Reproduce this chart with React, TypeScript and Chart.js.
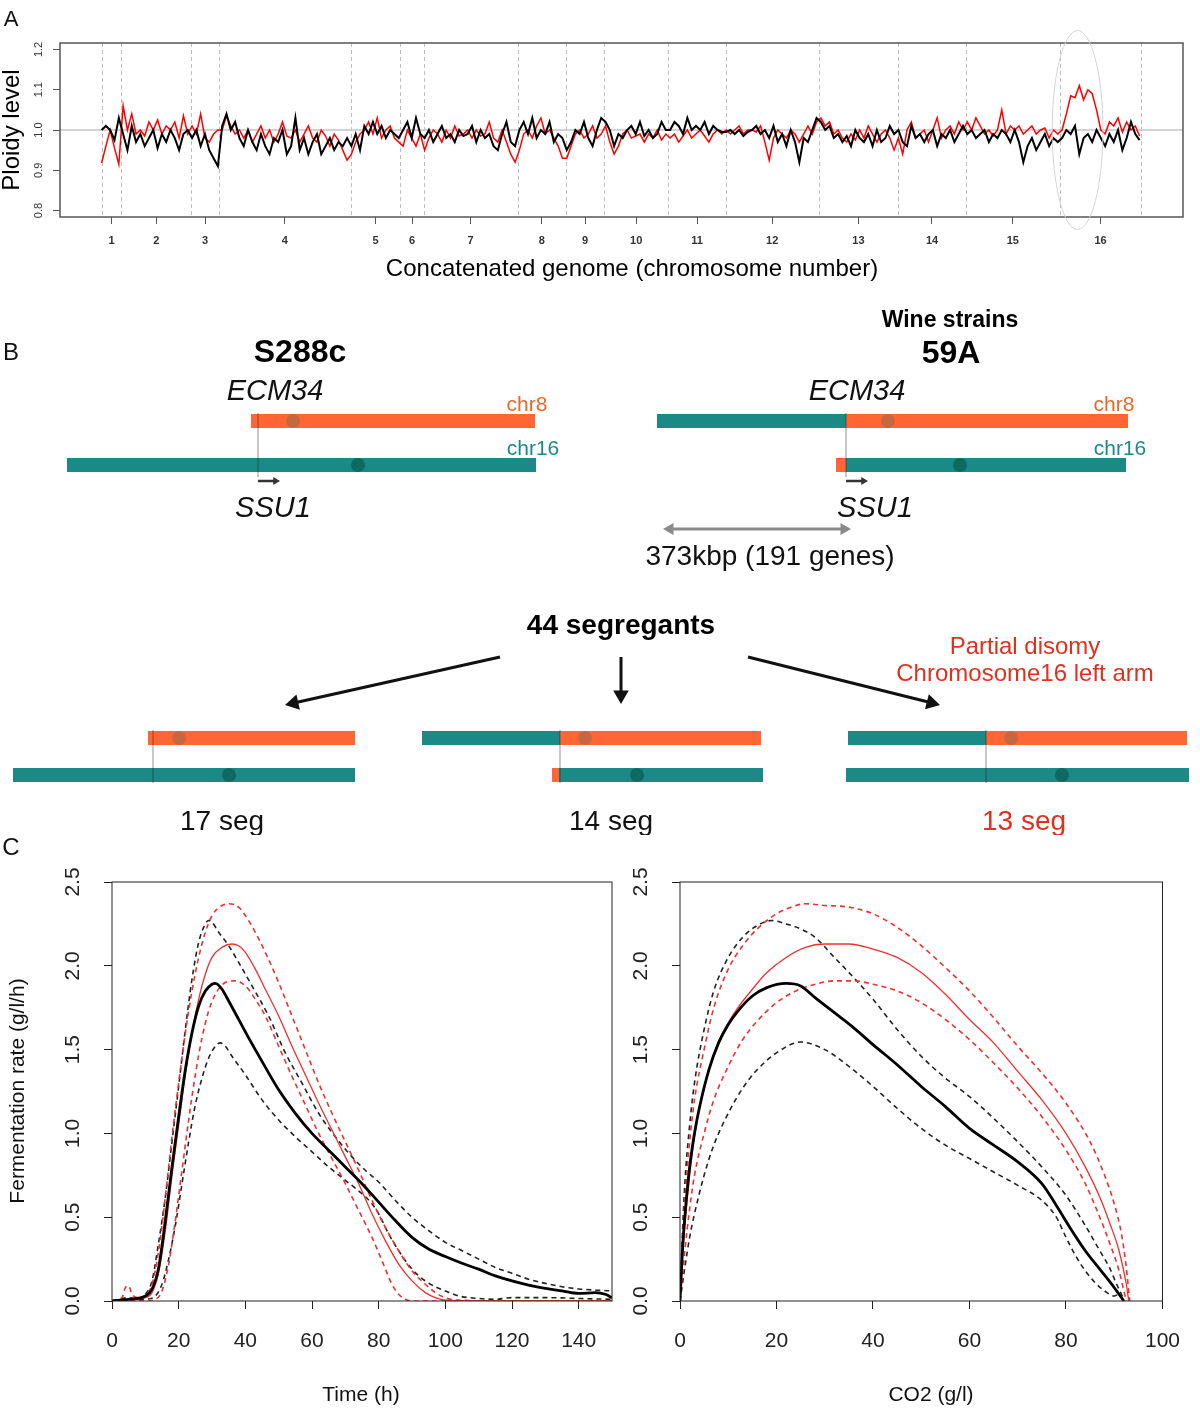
import React, { useEffect, useRef } from "react";
import { Chart, registerables } from "chart.js";

Chart.register(...registerables);

const FAMILY = '"Liberation Sans", Arial, Helvetica, sans-serif';
Chart.defaults.font.family = FAMILY;

// ================= Panel A : ploidy along the concatenated genome =================
const chromosomeLabels = ["1", "2", "3", "4", "5", "6", "7", "8", "9", "10", "11", "12", "13", "14", "15", "16"];
const chromosomeSizesKb = [230, 813, 317, 1532, 577, 270, 1091, 563, 440, 746, 667, 1078, 924, 784, 1091, 948];
const ploidyTicks = [0.8, 0.9, 1.0, 1.1, 1.2];
const ploidyWindowKb = 50;

const ploidyRed = [
  // chr1
  0.918, 0.96, 1.0, 0.955, 0.915,
  // chr2
  1.06, 1.0, 1.04, 0.99, 1.0, 0.985, 1.02, 1.0, 1.025, 0.99, 1.01, 1.0, 1.02, 0.98, 1.035, 0.99,
  // chr3
  1.01, 0.99, 1.04, 0.98, 0.97, 0.99, 1.0,
  // chr4
  1.0, 1.035, 1.01, 0.99, 1.0, 0.98, 1.0, 0.97, 0.99, 1.01, 0.98, 1.0, 0.97, 0.99, 1.02, 0.985, 0.98, 1.0, 0.97, 0.99,
  1.01, 0.98, 0.97, 1.0, 0.985, 0.96, 0.99, 0.975, 0.95, 0.925,
  // chr5
  0.94, 0.97, 0.99, 1.0, 1.02, 0.99, 1.03, 0.98, 1.0, 1.01, 0.98, 0.97,
  // chr6
  0.96, 1.0, 0.98, 0.96, 0.99,
  // chr7
  0.95, 0.98, 1.0, 0.99, 0.97, 1.0, 0.98, 1.01, 0.985, 0.99, 1.0, 0.98, 1.0, 0.985, 0.99, 1.02, 0.98, 0.97, 1.0, 0.97, 0.94, 0.92,
  // chr8
  0.95, 0.99, 1.0, 0.98, 1.01, 1.03, 0.99, 1.0, 0.98, 0.96, 0.93,
  // chr9
  0.93, 0.96, 0.99, 1.0, 0.98, 0.99, 1.01, 0.98, 0.99,
  // chr10
  1.01, 0.97, 0.94, 0.96, 0.99, 1.0, 0.98, 0.985, 0.99, 0.97, 0.99, 0.98, 1.0, 0.975, 0.99,
  // chr11
  0.98, 0.99, 0.97, 0.985, 1.0, 0.98, 0.99, 1.0, 0.985, 0.97, 0.99, 1.0, 0.99,
  // chr12
  1.0, 0.99, 1.0, 1.01, 0.99, 1.0, 1.0, 0.995, 1.01, 0.97, 0.925, 0.98, 1.0, 0.99, 0.98, 1.0, 0.99, 0.97, 0.99, 1.01, 0.99, 1.02,
  // chr13
  1.03, 1.01, 1.02, 0.99, 1.0, 0.98, 0.97, 0.99, 0.975, 1.0, 0.98, 1.01, 0.99, 0.97, 0.99, 1.0, 0.98, 0.95,
  // chr14
  0.98, 0.94, 1.0, 1.02, 0.98, 0.99, 1.0, 0.97, 1.0, 1.03, 0.98, 1.0, 1.01, 0.99, 1.02, 1.0,
  // chr15
  1.02, 1.0, 1.03, 1.01, 0.99, 1.0, 0.985, 1.0, 1.05, 0.99, 1.01, 1.0, 1.01, 0.99, 1.0, 1.01, 0.99, 1.0, 1.005, 0.98, 1.0, 0.99,
  // chr16
  1.0, 1.04, 1.085, 1.08, 1.11, 1.075, 1.1, 1.09, 1.05, 1.0, 0.99, 1.02, 1.01, 1.03, 0.995, 1.02, 1.0, 1.01, 0.985,
];

const ploidyBlack = [
  // chr1
  1.0, 1.01, 1.0, 0.975, 1.03,
  // chr2
  0.99, 0.95, 1.01, 0.97, 0.99, 0.96, 0.98, 1.0, 0.955, 0.99, 0.97, 1.0, 0.98, 0.95, 0.99, 1.0,
  // chr3
  0.98, 1.0, 0.96, 0.99, 0.95, 0.93, 0.91,
  // chr4
  1.01, 1.04, 1.0, 1.02, 0.98, 0.96, 1.0, 0.97, 0.95, 0.99, 0.96, 0.94, 0.98, 0.97, 1.0, 0.94, 0.96, 1.03, 0.95, 0.98,
  0.94, 0.97, 0.99, 0.94, 0.96, 0.98, 0.95, 0.97, 0.96, 0.98,
  // chr5
  0.96, 0.99, 0.95, 1.01, 0.99, 1.02, 0.99, 1.01, 0.98, 1.0, 0.99, 0.98,
  // chr6
  1.0, 1.02, 0.98, 1.03, 0.99,
  // chr7
  0.98, 1.0, 0.97, 0.99, 1.01, 0.98, 0.99, 0.97, 1.0, 0.985, 0.99, 1.01, 0.97, 1.0, 0.98, 0.99, 0.96, 0.95, 0.99, 1.02, 0.97, 0.96,
  // chr8
  1.0, 1.02, 0.99, 1.03, 0.98, 1.0, 0.99, 1.02, 0.97, 0.99, 0.98,
  // chr9
  0.95, 0.97, 1.0, 0.99, 1.02, 0.98, 0.96, 1.0, 1.03,
  // chr10
  1.02, 1.0, 0.96, 0.99, 0.98, 1.0, 1.01, 0.99, 1.02, 0.985, 1.0, 0.98, 0.99, 1.02, 1.0,
  // chr11
  1.0, 1.02, 1.01, 0.99, 1.03, 1.0, 1.01, 1.0, 1.02, 0.99, 1.01, 1.0, 0.995,
  // chr12
  0.995, 1.0, 0.99, 1.0, 0.985, 0.995, 1.0, 1.01, 0.99, 1.0, 0.98, 1.01, 0.97, 0.99, 0.96, 1.0, 0.97, 0.92, 0.98, 0.97, 1.0, 1.03,
  // chr13
  1.02, 1.0, 1.01, 0.98, 0.99, 0.97, 0.985, 0.96, 1.0, 0.98, 0.97, 0.99, 0.96, 1.0, 0.97, 0.98, 1.01, 0.99,
  // chr14
  1.0, 0.97, 0.96, 1.01, 0.98, 0.99, 0.97, 0.99, 1.0, 0.96, 0.99, 0.98, 1.0, 0.97, 0.99, 1.01,
  // chr15
  0.99, 1.0, 0.98, 0.99, 1.0, 0.97, 0.99, 0.98, 1.0, 0.99, 0.97, 1.0, 0.97, 0.92, 0.96, 0.98, 0.95, 0.97, 0.99, 0.96, 0.98, 0.97,
  // chr16
  0.98, 1.0, 0.99, 1.01, 0.94, 0.98, 0.99, 0.97, 1.0, 0.98, 0.96, 0.99, 0.97, 1.0, 0.95, 0.98, 1.02, 0.99, 0.975,
];

// grey ellipse around the chr16 left-arm gain (genome kb, ploidy)
const disomyHighlight = { centerKb: 11330, centerLevel: 1.0, halfWidthKb: 295, halfHeightLevel: 0.247 };

// ================= Panel B : schematic (diagram units = canvas pixels) =================
const diagramColors = {
  orange: "#FF6633",
  teal: "#1B8A86",
  orangeDot: "#C5683F",
  tealDot: "#0D6A62",
};
// [x1, x2, y, color]
const diagramBars = [
  [251, 535, 121, "orange"], [67, 536, 165, "teal"],
  [657, 846, 121, "teal"], [846, 1128, 121, "orange"],
  [836, 846, 165, "orange"], [846, 1126, 165, "teal"],
  [148, 355, 438, "orange"], [13, 355, 475, "teal"],
  [422, 560, 438, "teal"], [560, 761, 438, "orange"],
  [552, 559, 475, "orange"], [559, 763, 475, "teal"],
  [848, 986, 438, "teal"], [986, 1187, 438, "orange"],
  [846, 1189, 475, "teal"],
];
// [x, y, color]
const diagramCentromeres = [
  [293, 121, "orangeDot"], [358, 165, "tealDot"],
  [888, 121, "orangeDot"], [960, 165, "tealDot"],
  [179, 438, "orangeDot"], [229, 475, "tealDot"],
  [585, 438, "orangeDot"], [637, 475, "tealDot"],
  [1011, 438, "orangeDot"], [1062, 475, "tealDot"],
];
// [x, yTop, yBottom]
const diagramJunctions = [
  [258, 113, 177], [846, 113, 177], [153, 430, 483], [560, 430, 483], [986, 430, 483],
];
// [kind, x1, y1, x2, y2]
const diagramArrows = [
  ["gene", 258, 181, 280, 181],
  ["gene", 846, 181, 868, 181],
  ["span", 663, 229, 851, 229],
  ["split", 500, 357, 285, 405],
  ["split", 621, 357, 621, 404],
  ["split", 748, 357, 940, 405],
];
// [text, x, y, kind]
const diagramTexts = [
  ["B", 11, 53, "panel"],
  ["S288c", 300, 53, "strain"],
  ["Wine strains", 950, 21, "group"],
  ["59A", 951, 54, "strain"],
  ["ECM34", 275, 92, "gene"],
  ["ECM34", 857, 92, "gene"],
  ["chr8", 527, 105, "chr8"],
  ["chr8", 1114, 105, "chr8"],
  ["chr16", 533, 149, "chr16"],
  ["chr16", 1120, 149, "chr16"],
  ["SSU1", 273, 209, "gene"],
  ["SSU1", 875, 209, "gene"],
  ["373kbp (191 genes)", 770, 257, "note"],
  ["44 segregants", 621, 326, "segregants"],
  ["Partial disomy", 1025, 347, "redNote"],
  ["Chromosome16 left arm", 1025, 374, "redNote"],
  ["17 seg", 222, 522, "count"],
  ["14 seg", 611, 522, "count"],
  ["13 seg", 1024, 522, "redCount"],
];

// ================= Panel C : fermentation kinetics =================
const rateTicks = [0, 0.5, 1.0, 1.5, 2.0, 2.5];
const timeTicks = [0, 20, 40, 60, 80, 100, 120, 140];
const co2Ticks = [0, 20, 40, 60, 80, 100];

const timeBlackMean = [[0,0],[5,0.01],[10,0.03],[12,0.07],[14,0.2],[16,0.48],[18,0.8],[20,1.1],[22,1.38],[24,1.6],[26,1.76],[28,1.85],[30,1.89],[31,1.895],[33,1.86],[35,1.79],[38,1.68],[41,1.57],[45,1.43],[50,1.26],[55,1.12],[60,1.0],[65,0.9],[70,0.8],[75,0.7],[80,0.59],[85,0.48],[90,0.38],[95,0.31],[100,0.265],[105,0.225],[110,0.19],[115,0.15],[120,0.12],[125,0.095],[130,0.075],[135,0.06],[140,0.045],[145,0.05],[148,0.04],[150,0.02]];
const timeBlackUpper = [[0,0],[5,0.02],[8,0.01],[10,0.04],[12,0.12],[14,0.35],[16,0.62],[18,0.95],[20,1.28],[22,1.62],[24,1.92],[26,2.14],[28,2.25],[29,2.27],[30,2.26],[32,2.2],[35,2.12],[38,2.02],[42,1.88],[47,1.7],[52,1.48],[57,1.3],[62,1.12],[67,0.98],[72,0.86],[76,0.78],[80,0.71],[85,0.6],[90,0.5],[95,0.42],[100,0.35],[105,0.3],[110,0.25],[115,0.2],[120,0.165],[125,0.13],[130,0.105],[135,0.085],[140,0.072],[145,0.065],[150,0.06]];
const timeBlackLower = [[0,0],[10,0.01],[13,0.03],[15,0.1],[17,0.25],[19,0.45],[21,0.7],[23,0.95],[25,1.17],[27,1.33],[29,1.45],[31,1.52],[32.5,1.54],[34,1.52],[36,1.46],[40,1.35],[45,1.2],[50,1.08],[55,0.98],[60,0.89],[65,0.8],[70,0.72],[75,0.64],[78,0.58],[80,0.52],[83,0.4],[86,0.3],[90,0.19],[94,0.12],[97,0.085],[100,0.06],[104,0.03],[110,0.015],[115,0.01],[120,0.02],[130,0.02],[140,0.015],[150,0.01]];
const timeRedMean = [[0,0],[5,0.01],[10,0.02],[12,0.05],[14,0.17],[16,0.42],[18,0.75],[20,1.05],[22,1.35],[24,1.6],[26,1.8],[28,1.95],[30,2.05],[33,2.11],[36,2.13],[38,2.12],[40,2.08],[43,1.98],[46,1.86],[50,1.7],[54,1.52],[58,1.35],[62,1.18],[66,1.02],[70,0.86],[74,0.7],[78,0.52],[82,0.36],[86,0.22],[90,0.12],[94,0.05],[97,0.02],[100,0.005],[110,0],[150,0]];
const timeRedUpper = [[0,0],[3,0.02],[4,0.08],[5,0.09],[6,0.04],[8,0.02],[10,0.03],[12,0.1],[14,0.3],[16,0.62],[18,0.98],[20,1.3],[22,1.6],[24,1.85],[26,2.05],[28,2.2],[30,2.3],[33,2.36],[35,2.37],[38,2.35],[40,2.3],[43,2.2],[46,2.08],[50,1.9],[54,1.7],[58,1.5],[62,1.3],[66,1.12],[70,0.95],[74,0.78],[78,0.6],[82,0.44],[86,0.3],[90,0.18],[94,0.1],[97,0.05],[100,0.02],[104,0.005],[120,0],[150,0]];
const timeRedLower = [[0,0],[10,0],[13,0.01],[15,0.06],[17,0.22],[19,0.48],[21,0.78],[23,1.08],[25,1.35],[27,1.57],[29,1.73],[31,1.83],[34,1.9],[37,1.91],[40,1.88],[43,1.8],[46,1.7],[50,1.52],[54,1.34],[58,1.17],[62,1.0],[66,0.85],[70,0.7],[74,0.54],[78,0.38],[81,0.24],[84,0.1],[86,0.04],[88,0.01],[90,0],[150,0]];

const co2BlackMean = [[0,0],[0.5,0.3],[1,0.5],[2,0.8],[3,1.0],[4,1.15],[6,1.38],[8,1.54],[10,1.65],[12,1.73],[15,1.82],[18,1.87],[22,1.895],[25,1.88],[28,1.81],[32,1.72],[36,1.63],[40,1.53],[45,1.41],[50,1.28],[55,1.16],[60,1.03],[65,0.93],[70,0.83],[75,0.7],[78,0.57],[81,0.43],[84,0.3],[87,0.19],[90,0.08],[92,0]];
const co2BlackUpper = [[0,0],[0.5,0.4],[1,0.7],[2,1.05],[3,1.3],[5,1.62],[7,1.85],[10,2.05],[13,2.17],[16,2.24],[19,2.27],[22,2.25],[25,2.22],[28,2.17],[32,2.05],[36,1.93],[40,1.8],[45,1.62],[50,1.46],[55,1.33],[60,1.22],[65,1.09],[70,0.95],[75,0.8],[80,0.63],[84,0.45],[87,0.3],[89,0.2],[90.5,0.1],[91.5,0.04],[92,0]];
const co2BlackLower = [[0,0],[0.5,0.1],[1,0.2],[2,0.38],[3,0.52],[5,0.75],[7,0.93],[10,1.12],[13,1.27],[16,1.38],[20,1.48],[25,1.545],[30,1.5],[35,1.4],[40,1.28],[45,1.15],[50,1.03],[55,0.93],[60,0.85],[65,0.77],[70,0.69],[75,0.6],[78,0.5],[80,0.38],[82,0.27],[84,0.18],[86,0.11],[88,0.06],[90,0.03],[91,0.04],[92,0]];
const co2RedMean = [[0,0],[0.5,0.25],[1,0.45],[2,0.75],[3,0.98],[4,1.15],[6,1.38],[8,1.55],[10,1.66],[12,1.75],[15,1.86],[18,1.96],[22,2.05],[26,2.11],[30,2.13],[35,2.13],[40,2.1],[45,2.05],[50,1.96],[55,1.83],[60,1.68],[65,1.54],[70,1.37],[75,1.2],[80,1.0],[84,0.8],[87,0.62],[89,0.47],[91,0.3],[92.5,0.1],[93,0]];
const co2RedUpper = [[0,0],[0.5,0.35],[1,0.6],[2,0.95],[3,1.2],[5,1.5],[7,1.75],[10,1.98],[13,2.12],[16,2.22],[20,2.31],[23,2.35],[26,2.37],[30,2.36],[35,2.35],[40,2.31],[45,2.23],[50,2.12],[55,1.99],[60,1.85],[65,1.69],[70,1.52],[75,1.36],[80,1.18],[85,0.95],[88,0.75],[90,0.58],[91.5,0.4],[92.5,0.2],[93.2,0]];
const co2RedLower = [[0,0],[0.5,0.15],[1,0.3],[2,0.55],[3,0.75],[5,1.0],[7,1.2],[10,1.4],[13,1.56],[16,1.67],[20,1.78],[24,1.85],[28,1.89],[32,1.91],[36,1.91],[40,1.89],[45,1.85],[50,1.78],[55,1.68],[60,1.56],[65,1.42],[70,1.27],[75,1.1],[80,0.9],[84,0.7],[87,0.5],[89,0.35],[91,0.18],[92,0.06],[92.5,0]];

// ================= helpers =================
type TextSpec = { text: string; x: number; y: number; size: number; style?: string; color?: string; rotate?: boolean; align?: CanvasTextAlign };

function drawText(ctx: CanvasRenderingContext2D, t: TextSpec) {
  ctx.save();
  ctx.font = `${t.style || ""} ${t.size}px ${FAMILY}`.trim();
  ctx.fillStyle = t.color || "#000";
  ctx.textAlign = t.align || "center";
  ctx.textBaseline = "middle";
  ctx.translate(t.x, t.y);
  if (t.rotate) ctx.rotate(-Math.PI / 2);
  ctx.fillText(t.text, 0, 0);
  ctx.restore();
}

function frameAndYLabels(chart: any, frameColor: string, frameWidth: number, labelOffset: number, labelSize: number, labelColor: string) {
  const { ctx, chartArea: ca } = chart;
  ctx.save();
  ctx.strokeStyle = frameColor;
  ctx.lineWidth = frameWidth;
  ctx.strokeRect(ca.left, ca.top, ca.right - ca.left, ca.bottom - ca.top);
  ctx.restore();
  const ys = chart.scales.y;
  ys.ticks.forEach((t: any) => {
    drawText(ctx, { text: t.value.toFixed(1), x: ca.left - labelOffset, y: ys.getPixelForValue(t.value), size: labelSize, color: labelColor, rotate: true });
  });
}

// Chart.js paints dataset 0 last (on top); the lists below are written bottom-to-top and reversed.
const topFirst = (list: any[]) => list.slice().reverse();

// ================= Panel A config =================
function buildPanelA() {
  const bounds = [0];
  chromosomeSizesKb.forEach((s) => bounds.push(bounds[bounds.length - 1] + s));
  const genome = bounds[bounds.length - 1];
  const centers = chromosomeSizesKb.map((s, i) => bounds[i] + s / 2);
  const pad = genome * 0.04;
  const pts = (arr: number[]) => arr.map((v, i) => ({ x: i * ploidyWindowKb, y: v }));

  const decor = {
    id: "panelADecor",
    beforeDatasetsDraw(chart: any) {
      const { ctx, chartArea: ca, scales } = chart;
      ctx.save();
      ctx.strokeStyle = "#BDBDBD";
      ctx.lineWidth = 1;
      ctx.setLineDash([4, 3]);
      bounds.forEach((b) => {
        const px = Math.round(scales.x.getPixelForValue(b)) + 0.5;
        ctx.beginPath();
        ctx.moveTo(px, ca.top);
        ctx.lineTo(px, ca.bottom);
        ctx.stroke();
      });
      ctx.setLineDash([]);
      ctx.strokeStyle = "#C4C4C4";
      ctx.lineWidth = 1.5;
      const py = scales.y.getPixelForValue(1.0);
      ctx.beginPath();
      ctx.moveTo(ca.left, py);
      ctx.lineTo(ca.right, py);
      ctx.stroke();
      ctx.restore();
    },
    afterDraw(chart: any) {
      const { ctx, scales } = chart;
      frameAndYLabels(chart, "#555", 1.5, 21, 11, "#333");
      const cx = scales.x.getPixelForValue(disomyHighlight.centerKb);
      const cy = scales.y.getPixelForValue(disomyHighlight.centerLevel);
      const rx = Math.abs(scales.x.getPixelForValue(disomyHighlight.centerKb + disomyHighlight.halfWidthKb) - cx);
      const ry = Math.abs(scales.y.getPixelForValue(disomyHighlight.centerLevel + disomyHighlight.halfHeightLevel) - cy);
      ctx.save();
      ctx.strokeStyle = "#D4D4D4";
      ctx.lineWidth = 1;
      ctx.beginPath();
      ctx.ellipse(cx, cy, rx, ry, 0, 0, Math.PI * 2);
      ctx.stroke();
      ctx.restore();
      drawText(ctx, { text: "A", x: 11, y: 20, size: 22, color: "#111" });
      drawText(ctx, { text: "Ploidy level", x: 12, y: 130, size: 24, color: "#000", rotate: true });
      drawText(ctx, { text: "Concatenated genome (chromosome number)", x: 632, y: 269, size: 24, color: "#000" });
    },
  };

  return {
    type: "line",
    data: {
      datasets: topFirst([
        { data: pts(ploidyRed), borderColor: "#FF0000", borderWidth: 1.5, pointRadius: 0, tension: 0 },
        { data: pts(ploidyBlack), borderColor: "#000000", borderWidth: 2, pointRadius: 0, tension: 0 },
      ]),
    },
    options: {
      animation: false,
      responsive: false,
      events: [],
      layout: { autoPadding: false, padding: { left: 0, top: 43, right: 17, bottom: 0 } },
      plugins: { legend: { display: false }, tooltip: { enabled: false } },
      scales: {
        x: {
          type: "linear",
          bounds: "data",
          min: -pad,
          max: genome + pad,
          afterBuildTicks: (s: any) => { s.ticks = centers.map((v) => ({ value: v })); },
          afterFit: (s: any) => { s.height = 300 - 217; },
          ticks: {
            autoSkip: false, minRotation: 0, maxRotation: 0, padding: 10, color: "#333",
            font: { size: 11, weight: "bold" },
            callback: (_v: any, i: number) => chromosomeLabels[i],
          },
          grid: { drawOnChartArea: false, drawTicks: true, tickLength: 7, tickColor: "#555" },
          border: { display: false },
        },
        y: {
          type: "linear",
          bounds: "data",
          min: 0.784,
          max: 1.216,
          afterBuildTicks: (s: any) => { s.ticks = ploidyTicks.map((v) => ({ value: v })); },
          afterFit: (s: any) => { s.width = 60; },
          ticks: { display: false },
          grid: { drawOnChartArea: false, drawTicks: true, tickLength: 7, tickColor: "#555" },
          border: { display: false },
        },
      },
    },
    plugins: [decor],
  };
}

// ================= Panel B config =================
const barThickness = 14;
const centromereRadius = 7;
const arrowStyles: any = {
  gene: { color: "#333333", width: 2.5, head: 4.5, both: false },
  span: { color: "#8A8A8A", width: 3, head: 7, both: true },
  split: { color: "#111111", width: 3, head: 9, both: false },
};
const textStyles: any = {
  panel: { size: 24, style: "", color: "#111" },
  strain: { size: 32, style: "bold", color: "#000" },
  group: { size: 23, style: "bold", color: "#000" },
  gene: { size: 29, style: "italic", color: "#111" },
  chr8: { size: 21, style: "", color: "#E8672F" },
  chr16: { size: 21, style: "", color: "#1B8A86" },
  note: { size: 28, style: "", color: "#111" },
  segregants: { size: 28, style: "bold", color: "#000" },
  redNote: { size: 24, style: "", color: "#E0301E" },
  count: { size: 28, style: "", color: "#111" },
  redCount: { size: 28, style: "", color: "#E0301E" },
};

function buildPanelB() {
  const layers: any[] = [];
  diagramBars.forEach(([x1, x2, y, c]: any) => {
    layers.push({
      data: [{ x: x1, y }, { x: x2, y }],
      borderColor: (diagramColors as any)[c], borderWidth: barThickness, borderCapStyle: "butt",
      pointRadius: 0, tension: 0,
    });
  });
  diagramJunctions.forEach(([x, y1, y2]) => {
    layers.push({
      data: [{ x, y: y1 }, { x, y: y2 }],
      borderColor: "rgba(40,40,40,0.18)", borderWidth: 1, pointRadius: 0, tension: 0,
    });
  });
  layers.push({
    data: diagramCentromeres.map(([x, y]: any) => ({ x, y })),
    showLine: false, pointRadius: centromereRadius, pointBorderWidth: 0,
    pointBackgroundColor: diagramCentromeres.map((d: any) => (diagramColors as any)[d[2]]),
  });
  const heads: any[] = [];
  diagramArrows.forEach(([kind, x1, y1, x2, y2]: any) => {
    const st = arrowStyles[kind];
    const len = Math.hypot(x2 - x1, y2 - y1);
    const dx = (x2 - x1) / len, dy = (y2 - y1) / len;
    const r = st.head;
    const endX = x2 - dx * r, endY = y2 - dy * r;
    const startX = st.both ? x1 + dx * r : x1, startY = st.both ? y1 + dy * r : y1;
    layers.push({
      data: [{ x: startX, y: startY }, { x: endX, y: endY }],
      borderColor: st.color, borderWidth: st.width, pointRadius: 0, tension: 0,
    });
    const ang = (Math.atan2(dy, dx) * 180) / Math.PI;
    heads.push({ x: endX, y: endY, r, rot: ang + 90, color: st.color });
    if (st.both) heads.push({ x: startX, y: startY, r, rot: ang - 90, color: st.color });
  });
  layers.push({
    data: heads.map((h) => ({ x: h.x, y: h.y })),
    showLine: false, pointStyle: "triangle", pointBorderWidth: 0,
    pointRadius: heads.map((h) => h.r), pointRotation: heads.map((h) => h.rot),
    pointBackgroundColor: heads.map((h) => h.color),
  });

  const decor = {
    id: "panelBText",
    afterDatasetsDraw(chart: any) {
      const { ctx, scales } = chart;
      diagramTexts.forEach(([text, x, y, kind]: any) => {
        const st = textStyles[kind];
        drawText(ctx, { text, x: scales.x.getPixelForValue(x), y: scales.y.getPixelForValue(y), size: st.size, style: st.style, color: st.color });
      });
    },
  };

  return {
    type: "line",
    data: { datasets: topFirst(layers) },
    options: {
      animation: false,
      responsive: false,
      events: [],
      layout: { autoPadding: false, padding: 0 },
      plugins: { legend: { display: false }, tooltip: { enabled: false } },
      scales: {
        x: { type: "linear", display: false, min: 0, max: 1200 },
        y: { type: "linear", display: false, min: 0, max: 535, reverse: true },
      },
    },
    plugins: [decor],
  };
}

// ================= Panel C config =================
const RED = "#EE3030";
function kineticsDatasets(bu: number[][], bl: number[][], ru: number[][], rl: number[][], rm: number[][], bm: number[][]) {
  const pts = (a: number[][]) => a.map(([x, y]) => ({ x, y }));
  const base = { pointRadius: 0, cubicInterpolationMode: "monotone" };
  return topFirst([
    { ...base, data: pts(bu), borderColor: "#222", borderWidth: 1.6, borderDash: [5, 4] },
    { ...base, data: pts(bl), borderColor: "#222", borderWidth: 1.6, borderDash: [5, 4] },
    { ...base, data: pts(ru), borderColor: RED, borderWidth: 1.6, borderDash: [5, 4] },
    { ...base, data: pts(rl), borderColor: RED, borderWidth: 1.6, borderDash: [5, 4] },
    { ...base, data: pts(rm), borderColor: RED, borderWidth: 1.3 },
    { ...base, data: pts(bm), borderColor: "#000", borderWidth: 2.8 },
  ]);
}

function buildPanelC(opts: any) {
  const decor = {
    id: "panelCDecor",
    afterDraw(chart: any) {
      frameAndYLabels(chart, "#222", 1, 39, 21, "#222");
      opts.texts.forEach((t: TextSpec) => drawText(chart.ctx, t));
    },
  };
  return {
    type: "line",
    data: { datasets: opts.datasets },
    options: {
      animation: false,
      responsive: false,
      events: [],
      layout: { autoPadding: false, padding: { left: 0, top: 47, right: opts.padRight, bottom: 0 } },
      plugins: { legend: { display: false }, tooltip: { enabled: false } },
      scales: {
        x: {
          type: "linear",
          bounds: "data",
          min: 0,
          max: opts.xMax,
          afterBuildTicks: (s: any) => { s.ticks = opts.xTicks.map((v: number) => ({ value: v })); },
          afterFit: (s: any) => { s.height = 573 - 466; },
          ticks: { autoSkip: false, minRotation: 0, maxRotation: 0, padding: 20, color: "#222", font: { size: 21 }, callback: (v: any) => String(v) },
          grid: { drawOnChartArea: false, drawTicks: true, tickLength: 8, tickColor: "#222" },
          border: { display: false },
        },
        y: {
          type: "linear",
          bounds: "data",
          min: 0,
          max: 2.5,
          afterBuildTicks: (s: any) => { s.ticks = rateTicks.map((v) => ({ value: v })); },
          afterFit: (s: any) => { s.width = opts.yWidth; },
          ticks: { display: false },
          grid: { drawOnChartArea: false, drawTicks: true, tickLength: 8, tickColor: "#222" },
          border: { display: false },
        },
      },
    },
    plugins: [decor],
  };
}

export default function App() {
  const aRef = useRef<HTMLCanvasElement>(null);
  const bRef = useRef<HTMLCanvasElement>(null);
  const c1Ref = useRef<HTMLCanvasElement>(null);
  const c2Ref = useRef<HTMLCanvasElement>(null);

  useEffect(() => {
    const charts: Chart[] = [];
    charts.push(new Chart(aRef.current as any, buildPanelA() as any));
    charts.push(new Chart(bRef.current as any, buildPanelB() as any));
    charts.push(
      new Chart(c1Ref.current as any, buildPanelC({
        xMax: 150, xTicks: timeTicks, padRight: 13, yWidth: 112,
        datasets: kineticsDatasets(timeBlackUpper, timeBlackLower, timeRedUpper, timeRedLower, timeRedMean, timeBlackMean),
        texts: [
          { text: "C", x: 11, y: 13, size: 24, color: "#111" },
          { text: "Fermentation rate (g/l/h)", x: 18, y: 256, size: 21, color: "#111", rotate: true },
          { text: "Time (h)", x: 361, y: 560, size: 21, color: "#111" },
        ],
      }) as any)
    );
    charts.push(
      new Chart(c2Ref.current as any, buildPanelC({
        xMax: 100, xTicks: co2Ticks, padRight: 20, yWidth: 55,
        datasets: kineticsDatasets(co2BlackUpper, co2BlackLower, co2RedUpper, co2RedLower, co2RedMean, co2BlackMean),
        texts: [{ text: "CO2 (g/l)", x: 306, y: 560, size: 21, color: "#111" }],
      }) as any)
    );
    return () => charts.forEach((c) => c.destroy());
  }, []);

  const abs = (left: number, top: number) => ({ position: "absolute" as const, left, top });
  return (
    <div style={{ position: "absolute", left: 0, top: 0, width: 1200, height: 1408, background: "#ffffff", overflow: "hidden" }}>
      <canvas ref={aRef} width={1200} height={300} style={abs(0, 0)} />
      <canvas ref={bRef} width={1200} height={535} style={abs(0, 300)} />
      <canvas ref={c1Ref} width={625} height={573} style={abs(0, 835)} />
      <canvas ref={c2Ref} width={575} height={573} style={abs(625, 835)} />
    </div>
  );
}
